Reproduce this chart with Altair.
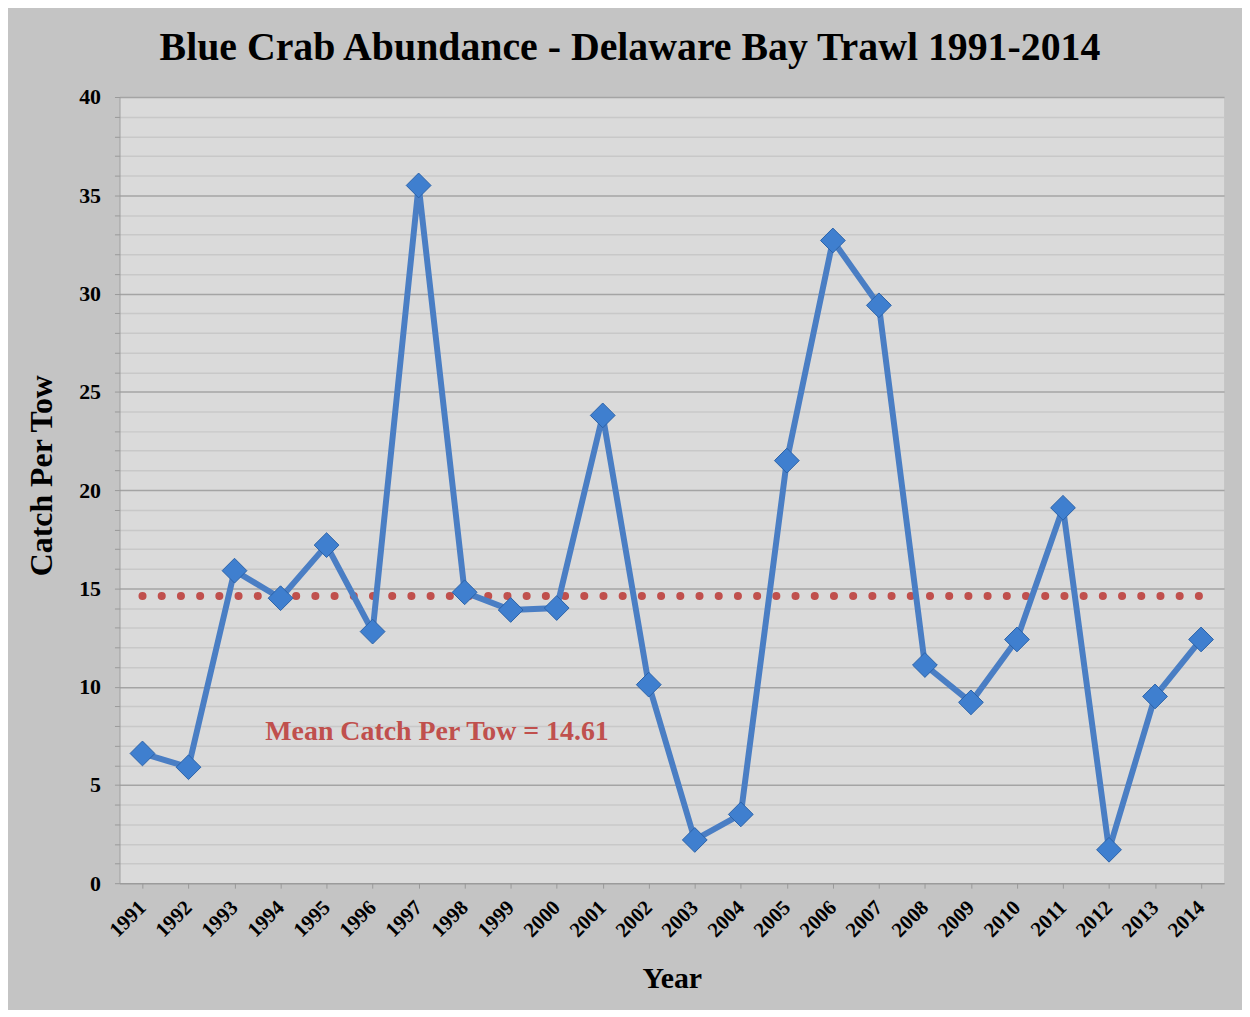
import altair as alt
import pandas as pd

years = list(range(1991, 2015))
catch = [6.6, 5.9, 15.9, 14.5, 17.2, 12.8, 35.5, 14.8, 13.9, 14.0, 23.8, 10.1,
         2.2, 3.5, 21.5, 32.7, 29.4, 11.1, 9.2, 12.4, 19.1, 1.7, 9.5, 12.4]
mean_value = 14.61
mean_label = "Mean Catch Per Tow = 14.61"
label_year = 1997.4
label_y = 7.7

df = pd.DataFrame({"Year": years, "Catch": catch})
mean_df = pd.DataFrame({"Year": [years[0]], "x2": [years[-1]], "Catch": [mean_value]})
label_df = pd.DataFrame({"Year": [label_year], "Catch": [label_y], "t": [mean_label]})

FONT = "Liberation Serif"

xscale = alt.Scale(domain=[1990.5, 2014.5], nice=False, zero=False)
yscale = alt.Scale(domain=[0, 40], nice=False)

xaxis = alt.Axis(values=years, tickCount=50, labelAngle=-45, labelAlign="right",
                 labelBaseline="middle",
                 labelFont=FONT, labelFontSize=21, labelFontWeight="bold", labelColor="#000",
                 labelPadding=16, grid=False, tickSize=5, tickColor="#999", domainColor="#999",
                 title="Year", titleFont=FONT, titleFontSize=30, titleFontWeight="bold",
                 titleColor="#000", titlePadding=23, labelOverlap=False, format="d")
yaxis = alt.Axis(values=list(range(0, 41)), tickCount=100, format="d",
                 labelExpr="datum.value % 5 === 0 ? datum.label : ''",
                 labelFont=FONT, labelFontSize=22, labelFontWeight="bold", labelColor="#000",
                 labelPadding=14, tickSize=5, tickColor="#999", domainColor="#999",
                 labelOverlap=False,
                 gridColor={"condition": {"test": "datum.value % 5 === 0", "value": "#a4a4a4"},
                            "value": "#c8c8c8"},
                 gridWidth=1.5,
                 title="Catch Per Tow", titleFont=FONT, titleFontSize=32, titleFontWeight="bold",
                 titleColor="#000", titlePadding=20, titleY=380)

X = alt.X("Year:Q", scale=xscale, axis=xaxis)
Y = alt.Y("Catch:Q", scale=yscale, axis=yaxis)

mean_rule = alt.Chart(mean_df).mark_rule(color="#c0504d", strokeWidth=8, strokeCap="round",
                                         strokeDash=[0.1, 19.2]).encode(x=X, x2="x2:Q", y=Y)
line = alt.Chart(df).mark_line(color="#4a7ec4", strokeWidth=6).encode(x=X, y=Y)
points = alt.Chart(df).mark_point(shape="diamond", filled=True, size=620, color="#3f7fcf",
                                  stroke="#2a62a8", strokeWidth=1, opacity=1).encode(x=X, y=Y)
label = alt.Chart(label_df).mark_text(font=FONT, fontSize=28, fontWeight="bold",
                                      color="#c0504d", align="center", baseline="middle").encode(
    x=X, y=Y, text="t:N")

chart = alt.layer(mean_rule, line, points, label).properties(
    width=1110, height=790,
    background="#c4c4c4",
    padding={"left": 112, "top": 87, "right": 18, "bottom": 125},
    autosize=alt.AutoSizeParams(type="none"),
    title=alt.Title("Blue Crab Abundance - Delaware Bay Trawl 1991-2014", font=FONT,
                    fontSize=40, fontWeight="bold", color="#000", anchor="middle",
                    dx=-42, offset=18),
).configure_view(fill="#dadada", stroke=None)

chart.save("out.html", embed_options={"renderer": "svg", "actions": False})
